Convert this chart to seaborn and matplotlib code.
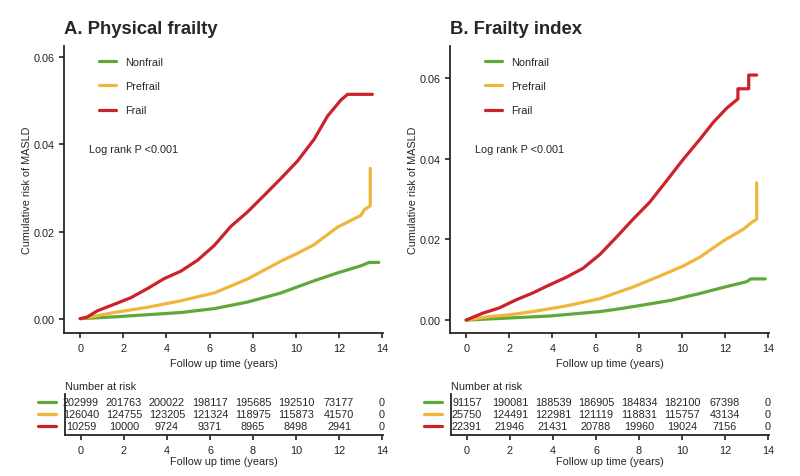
import pandas as pd
import seaborn as sns
import matplotlib.pyplot as plt
import matplotlib.transforms as mtransforms

groups = ['Nonfrail', 'Prefrail', 'Frail']
colors = ['#5fa83a', '#efb63c', '#cc2229']

# panel A - physical frailty (time in years, cumulative risk)
a_non_t = [0, 1.58, 3.12, 4.67, 6.22, 7.76, 9.31, 10.85, 12.0, 13.0, 13.4, 13.85]
a_non_r = [0, 0.0004, 0.0009, 0.0014, 0.0023, 0.0038, 0.0059, 0.0087, 0.0106, 0.0121, 0.0129, 0.0129]
a_pre_t = [0, 0.5, 1.58, 3.12, 4.67, 6.22, 7.76, 9.31, 10.08, 10.85, 11.93, 13.02, 13.17, 13.45, 13.45]
a_pre_r = [0, 0.0004, 0.0014, 0.0026, 0.0041, 0.0059, 0.0091, 0.0132, 0.0150, 0.0170, 0.0210, 0.0237, 0.0250, 0.0259, 0.0345]
a_fra_t = [0, 0.3, 0.8, 1.58, 2.35, 3.12, 3.9, 4.67, 5.44, 6.22, 6.99, 7.76, 8.53, 9.31, 10.08, 10.85, 11.47, 12.09, 12.4, 13.55]
a_fra_r = [0, 0.0003, 0.0018, 0.0033, 0.0048, 0.0069, 0.0092, 0.0109, 0.0134, 0.0168, 0.0212, 0.0245, 0.0283, 0.0322, 0.0362, 0.0412, 0.0465, 0.0502, 0.0515, 0.0515]

# panel B - frailty index
b_non_t = [0, 1.53, 3.86, 6.19, 7.0, 8.51, 9.5, 10.84, 12.0, 13.0, 13.2, 13.87]
b_non_r = [0, 0.0004, 0.0010, 0.0021, 0.0027, 0.0040, 0.0049, 0.0066, 0.0082, 0.0095, 0.0102, 0.0102]
b_pre_t = [0, 1.0, 2.0, 3.08, 4.64, 6.19, 7.74, 9.29, 10.06, 10.84, 11.92, 12.85, 13.24, 13.47, 13.47]
b_pre_r = [0, 0.0008, 0.0013, 0.0021, 0.0035, 0.0053, 0.0082, 0.0116, 0.0134, 0.0156, 0.0196, 0.0225, 0.0242, 0.0250, 0.0340]
b_fra_t = [0, 0.76, 1.53, 2.31, 3.08, 3.86, 4.64, 5.41, 6.19, 6.96, 7.74, 8.51, 9.29, 10.06, 10.84, 11.46, 12.08, 12.6, 12.6, 13.1, 13.1, 13.47]
b_fra_r = [0, 0.0017, 0.0030, 0.0050, 0.0067, 0.0087, 0.0106, 0.0128, 0.0162, 0.0205, 0.0250, 0.0292, 0.0345, 0.0398, 0.0448, 0.0490, 0.0525, 0.0548, 0.0573, 0.0573, 0.0607, 0.0607]

risk_times = [0, 2, 4, 6, 8, 10, 12, 14]
a_risk = [
    ['202999', '201763', '200022', '198117', '195685', '192510', '73177', '0'],
    ['126040', '124755', '123205', '121324', '118975', '115873', '41570', '0'],
    ['10259', '10000', '9724', '9371', '8965', '8498', '2941', '0'],
]
b_risk = [
    ['91157', '190081', '188539', '186905', '184834', '182100', '67398', '0'],
    ['25750', '124491', '122981', '121119', '118831', '115757', '43134', '0'],
    ['22391', '21946', '21431', '20788', '19960', '19024', '7156', '0'],
]


def make_df(ts, rs):
    parts = []
    for g, t, r in zip(groups, ts, rs):
        parts.append(pd.DataFrame({'time': t, 'risk': r, 'group': g}))
    return pd.concat(parts, ignore_index=True)


dfA = make_df([a_non_t, a_pre_t, a_fra_t], [a_non_r, a_pre_r, a_fra_r])
dfB = make_df([b_non_t, b_pre_t, b_fra_t], [b_non_r, b_pre_r, b_fra_r])

sns.set_style('ticks')
plt.rcParams['font.family'] = ['Liberation Sans', 'DejaVu Sans']
plt.rcParams['font.size'] = 7.8
plt.rcParams['axes.linewidth'] = 1.3
plt.rcParams['xtick.major.width'] = 1.2
plt.rcParams['ytick.major.width'] = 1.2
plt.rcParams['xtick.major.size'] = 3.5
plt.rcParams['ytick.major.size'] = 3.5
plt.rcParams['xtick.labelsize'] = 7.8
plt.rcParams['ytick.labelsize'] = 7.8
plt.rcParams['xtick.color'] = '#222222'
plt.rcParams['ytick.color'] = '#222222'

fig = plt.figure(figsize=(8, 4.77), dpi=100)
pal = dict(zip(groups, colors))

panels = [
    (dfA, a_risk, 'A. Physical frailty', 0.080, (-0.0033, 0.0626)),
    (dfB, b_risk, 'B. Frailty index', 0.5625, (-0.0032, 0.0679)),
]

for df, risk, title, left, ylim in panels:
    ax = fig.add_axes([left, 0.2998, 0.399, 0.6017])
    sns.lineplot(data=df, x='time', y='risk', hue='group', palette=pal,
                 estimator=None, sort=False, lw=2.3, ax=ax, legend=False)
    ax.set_xlim(-0.75, 14.05)
    ax.set_ylim(*ylim)
    ax.set_xticks(range(0, 15, 2))
    ax.set_yticks([0, 0.02, 0.04, 0.06])
    ax.set_yticklabels(['0.00', '0.02', '0.04', '0.06'])
    ax.set_xlabel('Follow up time (years)', fontsize=7.8, labelpad=4)
    ax.set_ylabel('Cumulative risk of MASLD', fontsize=7.8, labelpad=1)
    sns.despine(ax=ax)
    ax.text(0, 1.03, title, transform=ax.transAxes, fontsize=13.3,
            fontweight='bold', ha='left', va='bottom')
    ax.text(0.078, 0.641, 'Log rank P <0.001', transform=ax.transAxes,
            fontsize=7.8, ha='left', va='center')
    ax.legend(handles=ax.get_lines()[:3], labels=groups, frameon=False,
              loc='upper left', bbox_to_anchor=(0.08, 0.995), fontsize=7.8,
              handlelength=1.55, handletextpad=0.85, labelspacing=1.3)

    # number at risk table
    tab = fig.add_axes([left + 0.001, 0.086, 0.398, 0.086])
    tab.set_xlim(-0.75, 14.05)
    tab.set_ylim(-0.75, 2.67)
    for i, row in enumerate(risk):
        yrow = 2 - i
        for t, n in zip(risk_times, row):
            tab.text(t, yrow, n, ha='center', va='center', fontsize=7.8)
        tr = mtransforms.blended_transform_factory(tab.transAxes, tab.transData)
        tab.plot([-0.083, -0.028], [yrow, yrow], color=colors[i], lw=2.3,
                 transform=tr, clip_on=False)
    tab.set_xticks(risk_times)
    tab.set_yticks([])
    tab.set_xlabel('Follow up time (years)', fontsize=7.8, labelpad=1)
    sns.despine(ax=tab)
    tab.text(0.0, 1.2, 'Number at risk', transform=tab.transAxes,
             fontsize=7.8, ha='left', va='center')

fig.savefig('out.png', dpi=100)
